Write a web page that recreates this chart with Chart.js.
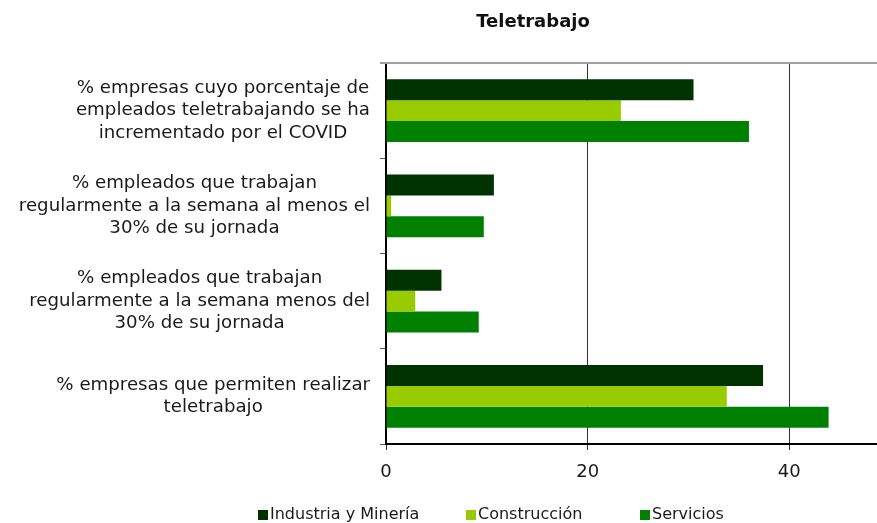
<!DOCTYPE html>
<html>
<head>
<meta charset="utf-8">
<script src="https://cdn.jsdelivr.net/npm/chart.js@4"></script>
<style>
  html, body { margin: 0; padding: 0; background: #fff; }
  #wrap { width: 877px; height: 523px; position: relative; }
</style>
</head>
<body>
<div id="wrap"><canvas id="chart"></canvas></div>
<script>
// Teletrabajo: horizontal grouped bars, three sectors per indicator
const TITLE = 'Teletrabajo';

const CATEGORIES = [
  ['% empresas cuyo porcentaje de', 'empleados teletrabajando se ha', 'incrementado por el COVID'],
  ['% empleados que trabajan', 'regularmente a la semana al menos el', '30% de su jornada'],
  ['% empleados que trabajan', 'regularmente a la semana menos del', '30% de su jornada'],
  ['% empresas que permiten realizar', 'teletrabajo']
];

const SERIES_NAMES = ['Industria y Minería', 'Construcción', 'Servicios'];
const INDUSTRIA    = [30.5, 10.7, 5.5, 37.4];
const CONSTRUCCION = [23.3, 0.5, 2.9, 33.8];
const SERVICIOS    = [36.0, 9.7, 9.2, 43.9];

const X_TICKS = [0, 20, 40];

const COLORS = ['#003300', '#99cc00', '#008000'];
const FONT = 'DejaVu Sans';

// legend x positions of the colour boxes
const LEGEND_X = [258, 466, 640];

// category labels, frame line, title and legend drawn by hand
const labelPlugin = {
  id: 'catLabels',
  afterDraw(chart) {
    const { ctx, chartArea, scales } = chart;
    const y = scales.y;
    ctx.save();
    ctx.font = '18.2px "' + FONT + '"';
    ctx.fillStyle = '#1a1a1a';
    ctx.textAlign = 'center';
    ctx.textBaseline = 'middle';
    const lineH = 22.5;
    const right = chartArea.left - 16;
    CATEGORIES.forEach((lines, i) => {
      const cy = y.getPixelForValue(i);
      const maxW = Math.max(...lines.map(l => ctx.measureText(l).width));
      const cx = right - maxW / 2;
      const y0 = cy - (lines.length - 1) * lineH / 2;
      lines.forEach((l, k) => ctx.fillText(l, cx, y0 + k * lineH));
    });

    // gray top frame line
    ctx.strokeStyle = '#a0a0a0';
    ctx.lineWidth = 2;
    ctx.beginPath();
    ctx.moveTo(chartArea.left - 6, chartArea.top);
    ctx.lineTo(chartArea.right, chartArea.top);
    ctx.stroke();

    // title
    ctx.font = 'bold 18px "' + FONT + '"';
    ctx.fillStyle = '#111';
    ctx.fillText(TITLE, 533, 22);

    // legend
    ctx.font = '16px "' + FONT + '"';
    ctx.textAlign = 'left';
    chart.data.datasets.forEach((ds, i) => {
      ctx.fillStyle = ds.backgroundColor;
      ctx.fillRect(LEGEND_X[i], 510, 10, 10);
      ctx.fillStyle = '#1a1a1a';
      ctx.fillText(ds.label, LEGEND_X[i] + 12, 515);
    });
    ctx.restore();
  }
};

new Chart(document.getElementById('chart'), {
  type: 'bar',
  data: {
    labels: CATEGORIES.map(l => l.join(' ')),
    datasets: [
      { label: SERIES_NAMES[0], data: INDUSTRIA, backgroundColor: COLORS[0] },
      { label: SERIES_NAMES[1], data: CONSTRUCCION, backgroundColor: COLORS[1] },
      { label: SERIES_NAMES[2], data: SERVICIOS, backgroundColor: COLORS[2] }
    ]
  },
  options: {
    indexAxis: 'y',
    responsive: true,
    maintainAspectRatio: false,
    animation: false,
    datasets: { bar: { categoryPercentage: 0.66, barPercentage: 1.0, borderWidth: 0 } },
    layout: { padding: { top: 63, left: 0, right: 0, bottom: 0 } },
    plugins: {
      title: { display: false },
      tooltip: { enabled: false },
      legend: { display: false }
    },
    scales: {
      x: {
        min: 0,
        max: 48.7,
        afterBuildTicks: s => { s.ticks = X_TICKS.map(v => ({ value: v })); },
        afterFit: s => { s.height = 79; },
        ticks: {
          font: { family: FONT, size: 18 },
          color: '#1a1a1a',
          padding: 12
        },
        grid: { color: '#333', lineWidth: 1, tickLength: 6 },
        border: { color: '#000', width: 2 }
      },
      y: {
        afterFit: s => { s.width = 386; },
        ticks: { display: false },
        grid: { drawOnChartArea: false, color: '#555', tickLength: 6, offset: true },
        border: { color: '#000', width: 2 }
      }
    }
  },
  plugins: [labelPlugin]
});
</script>
</body>
</html>
